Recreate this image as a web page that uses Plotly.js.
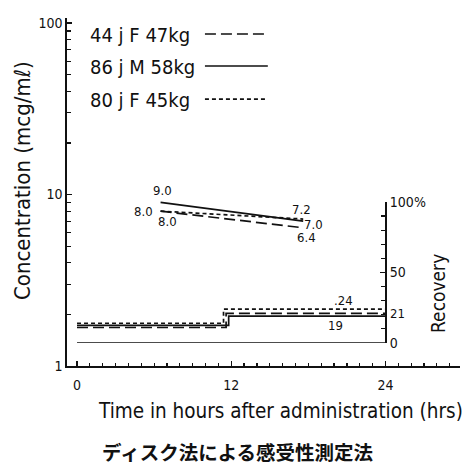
<!DOCTYPE html>
<html><head><meta charset="utf-8">
<script src="https://cdn.plot.ly/plotly-3.0.1.min.js"></script>
<style>html,body{margin:0;padding:0;background:#fff}</style>
</head><body><div id="chart" style="width:466px;height:469px"></div>
<script>
// ---- data ----
const seriesNames = ['44 j F 47kg', '86 j M 58kg', '80 j F 45kg'];
const concTimes = [6.5, 17.6];
const conc44 = [8.0, 6.4];
const conc86 = [9.0, 7.0];
const conc80 = [8.0, 7.2];
const recTimes44 = [0, 11.6, 11.6, 24];
const rec44 = [11, 11, 21, 21];
const recTimes86 = [0, 11.8, 11.8, 24];
const rec86 = [12.5, 12.5, 19, 19];
const recTimes80 = [0, 11.4, 11.4, 24];
const rec80 = [14, 14, 24, 24];
const xTickVals = [0, 12, 24];
const xTickText = ['0', '12', '24'];
const yTickVals = [1, 10, 100];
const yTickText = ['1', '10', '100'];
const yMinorVals = [2,3,4,5,6,7,8,9,20,30,40,50,60,70,80,90];
const recTickVals = [0, 50, 100];
const recTickText = ['0', '50', '100%'];
const concLabels = {
  c44: ['8.0', '6.4'], c86: ['9.0', '7.0'], c80: ['8.0', '7.2']
};
const recLabels = { r80: '.24', r86: '19', r44: '21' };
const recLabelTimes = { r80: 20.7, r86: 20.1, r44: 24 };
const xTitle = 'Time in hours after administration (hrs)';
const yTitle = 'Concentration (mcg/mℓ)';
const y2Title = 'Recovery';
const caption = 'ディスク法による感受性測定法';

// ---- styles ----
const FONT = '"DejaVu Sans Condensed", "DejaVu Sans", sans-serif';
const INK = '#111';
const styles = {
  s44: {color: INK, width: 1.7, dash: '11px,5px'},
  s86: {color: INK, width: 1.7, dash: 'solid'},
  s80: {color: INK, width: 1.7, dash: '4px,3px'}
};

const traces = [
  {x: concTimes, y: conc44, mode: 'lines', line: styles.s44, name: seriesNames[0]},
  {x: concTimes, y: conc86, mode: 'lines', line: styles.s86, name: seriesNames[1]},
  {x: concTimes, y: conc80, mode: 'lines', line: styles.s80, name: seriesNames[2]},
  {x: recTimes44, y: rec44, yaxis: 'y2', mode: 'lines', line: styles.s44, name: seriesNames[0]},
  {x: recTimes86, y: rec86, yaxis: 'y2', mode: 'lines', line: styles.s86, name: seriesNames[1]},
  {x: recTimes80, y: rec80, yaxis: 'y2', mode: 'lines', line: styles.s80, name: seriesNames[2]}
];

const lblFont = {family: FONT, size: 13, color: INK};
function lab(x, y, text, yref, xs, ys) {
  return {x: x, y: y, xref: 'x', yref: yref, text: text, showarrow: false,
          xanchor: 'center', yanchor: 'middle', xshift: xs, yshift: ys, font: lblFont};
}
function pap(x, y, text, size, angle, fam) {
  return {xref: 'paper', yref: 'paper', x: x, y: y, text: text, textangle: angle || 0,
          xanchor: 'center', yanchor: 'middle', showarrow: false,
          font: {family: fam || FONT, size: size, color: INK}};
}
const L = Math.log10;
const annotations = [
  lab(concTimes[0], L(conc86[0]), concLabels.c86[0], 'y', 2, 12),
  lab(concTimes[0], L(conc80[0]), concLabels.c80[0], 'y', -17, 0),
  lab(concTimes[0], L(conc44[0]), concLabels.c44[0], 'y', 7, -10),
  lab(concTimes[1], L(conc80[1]), concLabels.c80[1], 'y', -2, 10),
  lab(concTimes[1], L(conc86[1]), concLabels.c86[1], 'y', 10, -3),
  lab(concTimes[1], L(conc44[1]), concLabels.c44[1], 'y', 3, -10),
  lab(recLabelTimes.r80, rec80[3], recLabels.r80, 'y2', 0, 9),
  lab(recLabelTimes.r86, rec86[3], recLabels.r86, 'y2', 0, -9),
  lab(recLabelTimes.r44, rec44[3], recLabels.r44, 'y2', 12, 0),
  pap(-0.1145, 0.5316, yTitle, 22, -90),
  pap(0.5445, -0.1293, xTitle, 20.5),
  pap(0.944, 0.21, y2Title, 19, -90),
  pap(0.435, -0.2443, '<b>' + caption + '</b>', 19.5, 0, '"Noto Sans CJK JP", sans-serif')
];
const legendY = [0.951, 0.859, 0.764];
const legendStyles = [styles.s44, styles.s86, styles.s80];
const shapes = [
  {type: 'line', xref: 'x', yref: 'y2', x0: 0, x1: 24, y0: 0, y1: 0, line: {color: INK, width: 1.6}}
];
seriesNames.forEach((n, i) => {
  const a = pap(0.0534, legendY[i], n, 20);
  a.xanchor = 'left';
  annotations.push(a);
  shapes.push({type: 'line', xref: 'paper', yref: 'paper', x0: 0.351, x1: 0.511,
    y0: legendY[i] + 0.003, y1: legendY[i] + 0.003, line: legendStyles[i]});
});

const tickFont = {family: FONT, size: 14, color: INK};
const layout = {
  width: 466, height: 469,
  margin: {l: 67, r: 6, t: 18, b: 103, pad: 0},
  paper_bgcolor: '#fff', plot_bgcolor: 'rgba(0,0,0,0)',
  showlegend: false,
  font: {family: FONT, color: INK},
  xaxis: {
    range: [-0.78, 29.8], showline: true, linecolor: INK, linewidth: 1.6,
    showgrid: false, zeroline: false,
    tickmode: 'array', tickvals: xTickVals, ticktext: xTickText,
    ticks: 'inside', ticklen: 5, tickwidth: 1.3, tickcolor: INK, tickfont: tickFont,
    ticklabelstandoff: 6,
    minor: {dtick: 1, tick0: 0, ticks: 'inside', ticklen: 3, tickwidth: 1.2, tickcolor: INK, showgrid: false}
  },
  yaxis: {
    type: 'log', range: [0, 2.03], showline: true, linecolor: INK, linewidth: 1.6,
    showgrid: false, zeroline: false,
    tickmode: 'array', tickvals: yTickVals, ticktext: yTickText,
    ticks: 'inside', ticklen: 5, tickwidth: 1.3, tickcolor: INK, tickfont: tickFont,
    minor: {tickmode: 'array', tickvals: yMinorVals, ticks: 'inside', ticklen: 4, tickwidth: 1.2, tickcolor: INK, showgrid: false}
  },
  yaxis2: {
    domain: [0.0661, 0.4713], range: [0, 100], anchor: 'free', position: 0.8103, side: 'right',
    showline: true, linecolor: INK, linewidth: 1.6, showgrid: false, zeroline: false,
    tickmode: 'array', tickvals: recTickVals, ticktext: recTickText,
    ticks: 'inside', ticklen: 5, tickwidth: 1.3, tickcolor: INK, tickfont: tickFont,
    minor: {dtick: 10, tick0: 0, ticks: 'inside', ticklen: 4, tickwidth: 1.2, tickcolor: INK, showgrid: false}
  },
  annotations: annotations,
  shapes: shapes
};
Plotly.newPlot('chart', traces, layout, {staticPlot: true, displayModeBar: false});
</script></body></html>
